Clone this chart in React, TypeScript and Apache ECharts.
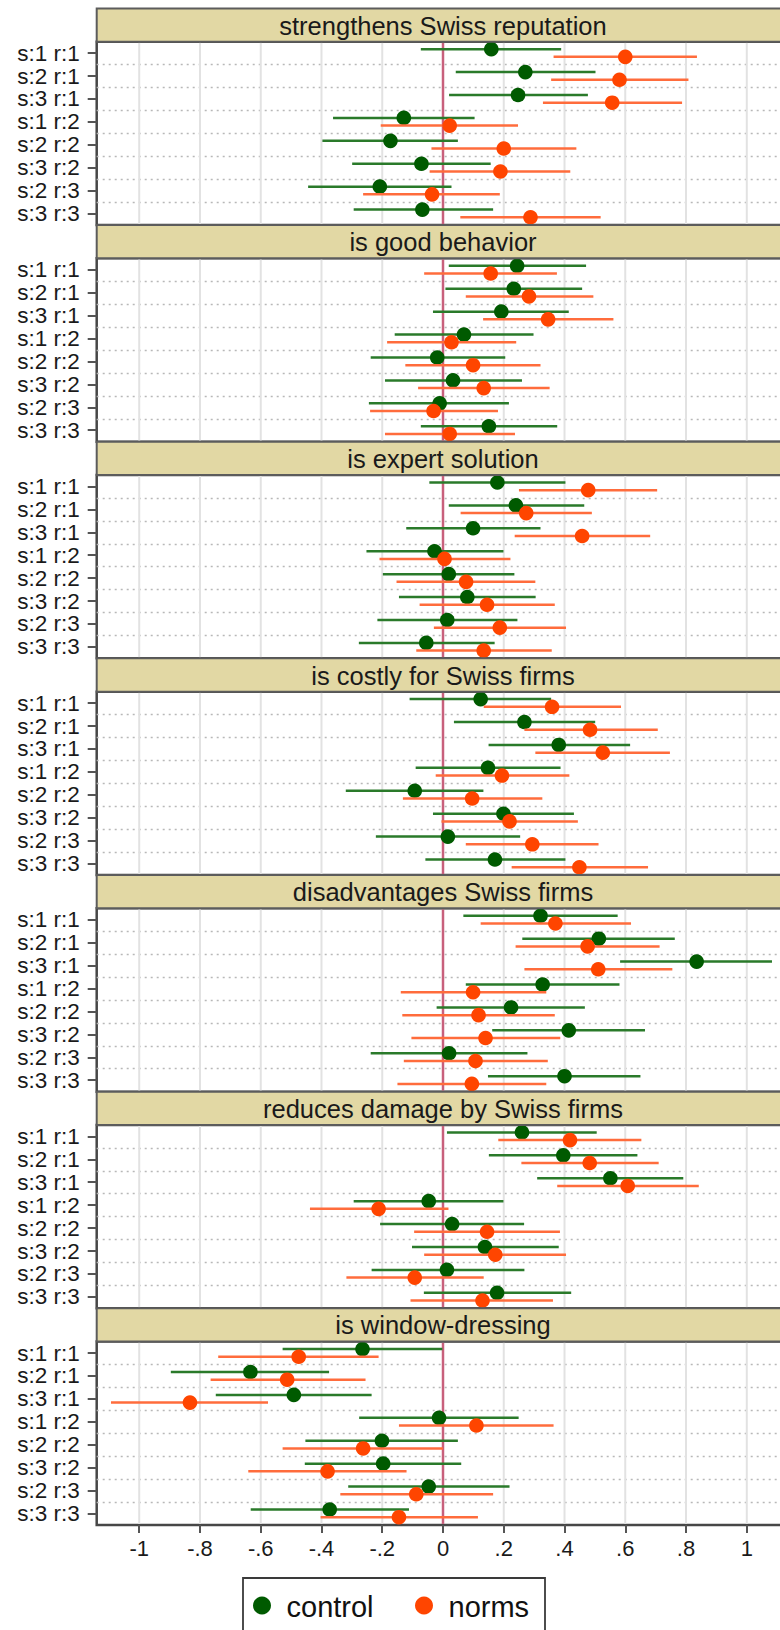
import React, { useEffect, useRef } from "react";
import * as echarts from "echarts";

// ---------- data ----------
const categories = ["s:1 r:1", "s:2 r:1", "s:3 r:1", "s:1 r:2", "s:2 r:2", "s:3 r:2", "s:2 r:3", "s:3 r:3"];
const panelTitles = [
  "strengthens Swiss reputation",
  "is good behavior",
  "is expert solution",
  "is costly for Swiss firms",
  "disadvantages Swiss firms",
  "reduces damage by Swiss firms",
  "is window-dressing",
];
const xTickValues = [-1, -0.8, -0.6, -0.4, -0.2, 0, 0.2, 0.4, 0.6, 0.8, 1];
const legendNames = ["control", "norms"];

// each row: [estimate, lower CI, upper CI]
const p1Control = [[0.159, -0.073, 0.389], [0.271, 0.042, 0.502], [0.247, 0.02, 0.477], [-0.129, -0.362, 0.104], [-0.173, -0.397, 0.049], [-0.071, -0.299, 0.157], [-0.208, -0.444, 0.028], [-0.068, -0.294, 0.165]];
const p1Norms = [[0.6, 0.364, 0.836], [0.581, 0.356, 0.808], [0.557, 0.329, 0.787], [0.022, -0.205, 0.247], [0.2, -0.038, 0.439], [0.189, -0.044, 0.419], [-0.036, -0.263, 0.187], [0.288, 0.057, 0.519]];

const p2Control = [[0.244, 0.019, 0.471], [0.233, 0.008, 0.458], [0.192, -0.033, 0.414], [0.069, -0.159, 0.298], [-0.019, -0.238, 0.205], [0.033, -0.191, 0.26], [-0.011, -0.244, 0.217], [0.151, -0.073, 0.376]];
const p2Norms = [[0.157, -0.062, 0.375], [0.283, 0.075, 0.495], [0.346, 0.132, 0.561], [0.028, -0.184, 0.241], [0.099, -0.124, 0.321], [0.134, -0.082, 0.351], [-0.031, -0.24, 0.181], [0.022, -0.191, 0.237]];

const p3Control = [[0.179, -0.045, 0.403], [0.24, 0.019, 0.465], [0.099, -0.121, 0.321], [-0.028, -0.252, 0.199], [0.019, -0.198, 0.235], [0.08, -0.145, 0.305], [0.014, -0.216, 0.245], [-0.055, -0.277, 0.17]];
const p3Norms = [[0.478, 0.25, 0.705], [0.274, 0.058, 0.49], [0.458, 0.236, 0.682], [0.005, -0.209, 0.222], [0.076, -0.153, 0.304], [0.145, -0.077, 0.368], [0.187, -0.03, 0.405], [0.134, -0.088, 0.358]];

const p4Control = [[0.124, -0.11, 0.356], [0.268, 0.036, 0.501], [0.381, 0.15, 0.616], [0.148, -0.09, 0.387], [-0.093, -0.32, 0.133], [0.199, -0.033, 0.431], [0.016, -0.221, 0.254], [0.171, -0.058, 0.403]];
const p4Norms = [[0.359, 0.134, 0.586], [0.484, 0.268, 0.707], [0.526, 0.304, 0.747], [0.194, -0.024, 0.416], [0.096, -0.132, 0.327], [0.219, -0.005, 0.444], [0.294, 0.075, 0.512], [0.449, 0.226, 0.675]];

const p5Control = [[0.321, 0.067, 0.575], [0.513, 0.261, 0.763], [0.835, 0.583, 1.083], [0.328, 0.075, 0.581], [0.224, -0.021, 0.467], [0.414, 0.162, 0.665], [0.02, -0.238, 0.278], [0.4, 0.148, 0.65]];
const p5Norms = [[0.37, 0.124, 0.619], [0.476, 0.239, 0.713], [0.511, 0.268, 0.755], [0.099, -0.139, 0.34], [0.117, -0.134, 0.368], [0.14, -0.104, 0.386], [0.107, -0.129, 0.345], [0.095, -0.15, 0.34]];

const p6Control = [[0.26, 0.013, 0.506], [0.396, 0.151, 0.64], [0.551, 0.31, 0.791], [-0.047, -0.294, 0.199], [0.03, -0.207, 0.267], [0.138, -0.102, 0.381], [0.013, -0.235, 0.268], [0.178, -0.063, 0.422]];
const p6Norms = [[0.418, 0.182, 0.653], [0.483, 0.258, 0.71], [0.608, 0.376, 0.842], [-0.212, -0.438, 0.018], [0.145, -0.095, 0.385], [0.172, -0.062, 0.405], [-0.093, -0.318, 0.134], [0.13, -0.107, 0.362]];

const p7Control = [[-0.265, -0.528, -0.002], [-0.634, -0.896, -0.375], [-0.491, -0.748, -0.235], [-0.013, -0.276, 0.249], [-0.201, -0.453, 0.049], [-0.197, -0.455, 0.06], [-0.047, -0.312, 0.219], [-0.373, -0.633, -0.112]];
const p7Norms = [[-0.475, -0.74, -0.212], [-0.513, -0.765, -0.255], [-0.833, -1.093, -0.576], [0.11, -0.145, 0.364], [-0.263, -0.528, 0.0], [-0.38, -0.641, -0.12], [-0.088, -0.338, 0.165], [-0.145, -0.403, 0.115]];

const controlPanels = [p1Control, p2Control, p3Control, p4Control, p5Control, p6Control, p7Control];
const normsPanels = [p1Norms, p2Norms, p3Norms, p4Norms, p5Norms, p6Norms, p7Norms];

// ---------- layout / style ----------
const W = 780;
const H = 1630;
const CHART_W = 820; // wider than the viewport: the plot's right edge is cut off, as in the reference
const PLOT_LEFT = 96.7;
const PLOT_WIDTH = 692.6;
const FIRST_TOP = 8.4;
const PERIOD = 216.65;
const HEADER_H = 33.3;
const PLOT_H = PERIOD - HEADER_H;
const X_MIN = -1.14;
const X_MAX = 1.14;
const FONT = '"Liberation Sans", Arial, sans-serif';

const GREEN_DOT = "#005a00";
const GREEN_LINE = "#2a7a2a";
const ORANGE_DOT = "#ff4500";
const ORANGE_LINE = "#ff6c3c";

// legend box layout
const LEG_LEFT = 243;
const LEG_TOP = 1578;
const LEG_W = 302;
const LEG_CY = 1605.5;
const LEG_ITEMS_X = [262, 424];

function fmtTick(v: number): string {
  const r = Math.round(v * 10) / 10;
  if (r === 0) return "0";
  return String(r).replace("0.", ".");
}

function errRender(offset: number, lineColor: string, dotColor: string) {
  return (params: any, api: any) => {
    const cat = api.value(3);
    const pE = api.coord([api.value(0), cat]);
    const pLo = api.coord([api.value(1), cat]);
    const pHi = api.coord([api.value(2), cat]);
    const y = pE[1] + offset;
    return {
      type: "group",
      children: [
        { type: "line", shape: { x1: pLo[0], y1: y, x2: pHi[0], y2: y }, style: { stroke: lineColor, lineWidth: 2.5 } },
        { type: "circle", shape: { cx: pE[0], cy: y, r: 7.3 }, style: { fill: dotColor } },
      ],
    };
  };
}

function buildOption() {
  const grids: any[] = [];
  const xAxes: any[] = [];
  const yAxes: any[] = [];
  const series: any[] = [];
  const graphics: any[] = [];

  for (let i = 0; i < panelTitles.length; i++) {
    const headerTop = FIRST_TOP + i * PERIOD;
    const plotTop = headerTop + HEADER_H;
    const isLast = i === panelTitles.length - 1;

    grids.push({
      left: PLOT_LEFT,
      top: plotTop,
      width: PLOT_WIDTH,
      height: PLOT_H,
      show: true,
      backgroundColor: "#ffffff",
      borderColor: "#474747",
      borderWidth: 2.5,
      z: 0,
    });

    xAxes.push({
      type: "value",
      gridIndex: i,
      min: X_MIN,
      max: X_MAX,
      axisLine: { show: false, onZero: false },
      splitLine: { show: false },
      axisTick: {
        show: isLast,
        customValues: xTickValues,
        length: 8,
        lineStyle: { color: "#555", width: 2 },
      },
      axisLabel: {
        show: isLast,
        customValues: xTickValues,
        formatter: (v: number) => fmtTick(v),
        fontSize: 22,
        fontFamily: FONT,
        color: "#1a1a1a",
        margin: 13,
      },
    });

    yAxes.push({
      type: "category",
      gridIndex: i,
      data: categories,
      inverse: true,
      position: "left",
      axisLine: { show: false, onZero: false },
      axisTick: {
        show: true,
        alignWithLabel: true,
        interval: 0,
        length: 9,
        lineStyle: { color: "#555", width: 2 },
      },
      axisLabel: {
        interval: 0,
        fontSize: 22.5,
        fontFamily: FONT,
        color: "#1a1a1a",
        margin: 17,
      },
      splitLine: {
        show: true,
        interval: 0,
        showMinLine: false,
        showMaxLine: false,
        lineStyle: { color: "#b8b8b8", width: 1.3, type: [2, 4] },
      },
    });

    // vertical light grid lines
    series.push({
      type: "custom",
      name: "grid" + i,
      xAxisIndex: i,
      yAxisIndex: i,
      silent: true,
      z: 1,
      encode: { x: 0, y: 1 },
      data: xTickValues.filter((v) => v !== 0).map((v) => [v, 0]),
      renderItem: (params: any, api: any) => {
        const cs = params.coordSys;
        const x = api.coord([api.value(0), 0])[0];
        return {
          type: "line",
          shape: { x1: x, y1: cs.y + 1, x2: x, y2: cs.y + cs.height - 1 },
          style: { stroke: "#e2e2e2", lineWidth: 2 },
        };
      },
    });

    // zero reference line
    series.push({
      type: "custom",
      name: "zero" + i,
      xAxisIndex: i,
      yAxisIndex: i,
      silent: true,
      z: 2,
      encode: { x: 0, y: 1 },
      data: [[0, 0]],
      renderItem: (params: any, api: any) => {
        const cs = params.coordSys;
        const x = api.coord([api.value(0), 0])[0];
        return {
          type: "line",
          shape: { x1: x, y1: cs.y + 1, x2: x, y2: cs.y + cs.height - 1 },
          style: { stroke: "#c8607c", lineWidth: 2.5 },
        };
      },
    });

    series.push({
      type: "custom",
      name: legendNames[0],
      xAxisIndex: i,
      yAxisIndex: i,
      z: 3,
      itemStyle: { color: GREEN_DOT },
      encode: { x: [0, 1, 2], y: 3 },
      data: controlPanels[i].map((r, k) => [r[0], r[1], r[2], k]),
      renderItem: errRender(-4, GREEN_LINE, GREEN_DOT),
    });

    series.push({
      type: "custom",
      name: legendNames[1],
      xAxisIndex: i,
      yAxisIndex: i,
      z: 4,
      itemStyle: { color: ORANGE_DOT },
      encode: { x: [0, 1, 2], y: 3 },
      data: normsPanels[i].map((r, k) => [r[0], r[1], r[2], k]),
      renderItem: errRender(3.7, ORANGE_LINE, ORANGE_DOT),
    });

    // header strip
    graphics.push({
      type: "rect",
      z: 10,
      shape: { x: PLOT_LEFT, y: headerTop, width: PLOT_WIDTH + 40, height: HEADER_H },
      style: { fill: "#e2d8a4", stroke: "#5c5c5c", lineWidth: 2 },
    });
    graphics.push({
      type: "text",
      z: 11,
      x: PLOT_LEFT + PLOT_WIDTH / 2,
      y: headerTop + HEADER_H / 2 + 0.5,
      style: {
        text: panelTitles[i],
        textAlign: "center",
        textVerticalAlign: "middle",
        font: `25.5px ${FONT}`,
        fill: "#1a1a1a",
      },
    });
  }

  // legend box
  graphics.push({
    type: "rect",
    z: 10,
    shape: { x: LEG_LEFT, y: LEG_TOP, width: LEG_W, height: 80 },
    style: { fill: "#ffffff", stroke: "#3a3a3a", lineWidth: 1.8 },
  });
  const legendColors = [GREEN_DOT, ORANGE_DOT];
  legendNames.forEach((name, k) => {
    graphics.push({
      type: "circle",
      z: 11,
      shape: { cx: LEG_ITEMS_X[k], cy: LEG_CY, r: 9 },
      style: { fill: legendColors[k] },
    });
    graphics.push({
      type: "text",
      z: 11,
      x: LEG_ITEMS_X[k] + 24.5,
      y: LEG_CY + 1,
      style: {
        text: name,
        textAlign: "left",
        textVerticalAlign: "middle",
        font: `29px ${FONT}`,
        fill: "#111",
      },
    });
  });

  return {
    animation: false,
    backgroundColor: "#ffffff",
    grid: grids,
    xAxis: xAxes,
    yAxis: yAxes,
    series,
    graphic: graphics,
  };
}

export default function App() {
  const ref = useRef<HTMLDivElement>(null);
  useEffect(() => {
    if (!ref.current) return;
    const chart = echarts.init(ref.current, undefined, { renderer: "svg" });
    chart.setOption(buildOption() as any);
    return () => chart.dispose();
  }, []);
  return (
    <div
      style={{ position: "absolute", left: 0, top: 0, width: W, height: H, overflow: "hidden", background: "#fff" }}
    >
      <div ref={ref} style={{ width: CHART_W, height: H }} />
    </div>
  );
}
